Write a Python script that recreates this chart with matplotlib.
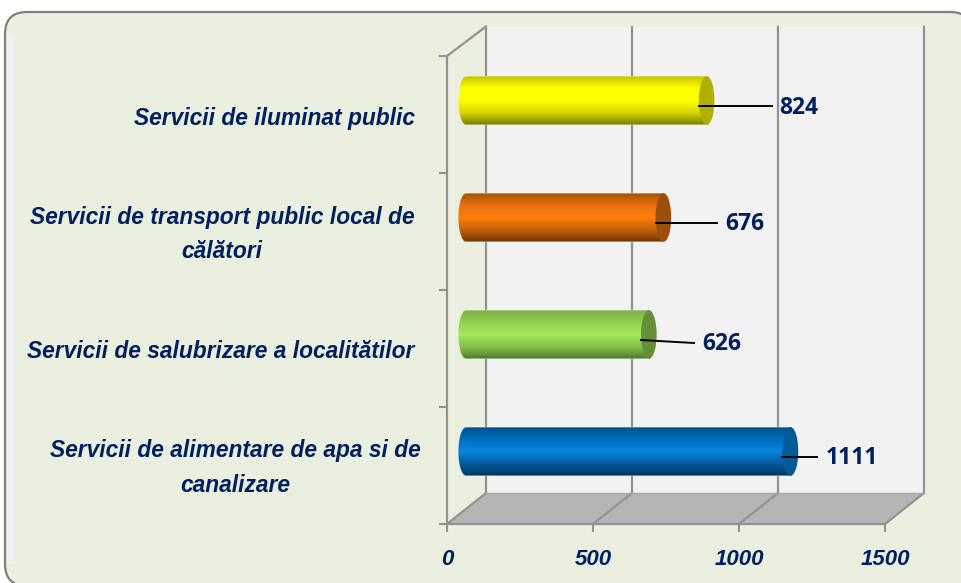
import numpy as np
import matplotlib
matplotlib.use("Agg")
import matplotlib.pyplot as plt
from matplotlib.colors import LinearSegmentedColormap
from matplotlib.patches import FancyBboxPatch, Polygon, Rectangle, PathPatch, Ellipse
from matplotlib.path import Path

categories = ["Servicii de alimentare de apa si de\ncanalizare",
              "Servicii de salubrizare a localitătilor",
              "Servicii de transport public local de\ncălători",
              "Servicii de iluminat public"]
values = [1111, 626, 676, 824]
xticks = [0, 500, 1000, 1500]

W, H = 961, 583
NAVY = "#002060"
GRID = "#939393"
PANEL = "#EBEFDF"
fig = plt.figure(figsize=(W / 100, H / 100), dpi=100, facecolor="white")

bg = fig.add_axes([0, 0, 1, 1], zorder=0)
bg.set_xlim(0, W); bg.set_ylim(H, 0); bg.axis("off")
bg.add_patch(FancyBboxPatch((5, 12), 967, 574, boxstyle="round,pad=0,rounding_size=22",
                            fc=PANEL, ec="#808080", lw=1.6))
bg.add_patch(Rectangle((6.5, 34), 8.5, 530, fc="#F0F0F2", ec="none"))

L, R, B, T = 447, 885, 524, 56
ax = fig.add_axes([L / W, 1 - B / H, (R - L) / W, (B - T) / H], zorder=1)
ax.patch.set_alpha(0)
ax.set_xlim(0, 1500); ax.set_ylim(0, 4)
px_x = 1500 / (R - L); px_y = 4 / (B - T)
dx, dy = 39 * px_x, 31 * px_y
top = 4 + dy - 1.5 * px_y

for s in ax.spines.values():
    s.set_visible(False)
ax.set_xticks(xticks)
ax.set_xticklabels([str(t) for t in xticks], family="Liberation Sans", style="italic",
                   weight="bold", fontsize=16, color=NAVY)
ax.set_yticks(range(5)); ax.set_yticklabels([])
ax.tick_params(axis="both", direction="out", length=6, width=1.5, color=GRID, pad=12)

# back wall, floor, left wall
ax.add_patch(Polygon([(dx, dy), (1500 + dx, dy), (1500 + dx, top), (dx, top)],
                     fc="#F2F2F2", ec="none", clip_on=False, zorder=1))
ax.add_patch(Polygon([(0, 0), (1500, 0), (1500 + dx, dy), (dx, dy)],
                     fc="#B5B5B5", ec="none", clip_on=False, zorder=1))
ax.add_patch(Polygon([(0, 0), (0, 4), (dx, top), (dx, dy)],
                     fc=PANEL, ec="none", clip_on=False, zorder=1))
line = dict(color=GRID, lw=1.6, clip_on=False, zorder=2, solid_capstyle="round")
for t in xticks:
    ax.plot([t, t + dx, t + dx], [0, dy, top], **line)
ax.plot([0, 1500], [0, 0], **line)
ax.plot([0, 0, dx], [0, 4, top], **line)
ax.plot([dx, 1500 + dx], [dy, dy], color="#A8A8A8", lw=1, clip_on=False, zorder=2)

# cylinders
stops = [
    (["#00365F", "#045A9C", "#0883DD", "#0070C0", "#004E8A"], "#045A96"),
    (["#4E7A2C", "#86C24C", "#A6E85C", "#92D050", "#7DAE45"], "#648E38"),
    (["#6B3500", "#C56208", "#FF7F0E", "#E87010", "#A65200"], "#9C4F0A"),
    (["#7A7A00", "#D8D800", "#FFFF00", "#FFFF00", "#C4C400"], "#B0B000"),
]
x0 = 65.0
half_h = 24.3 * px_y
half_w = 7.8 * px_x
y_off = 0.62
for i, (v, (cols, cap)) in enumerate(zip(values, stops)):
    yc = i + y_off
    x1 = x0 + v
    a_r = np.linspace(-np.pi / 2, np.pi / 2, 40)
    right = np.c_[x1 + half_w * np.cos(a_r), yc + half_h * np.sin(a_r)]
    left = np.c_[x0 - half_w * np.cos(a_r[::-1]), yc + half_h * np.sin(a_r[::-1])]
    pts = np.r_[right, left, right[:1]]
    cmap = LinearSegmentedColormap.from_list(f"c{i}", cols)
    im = ax.imshow(np.linspace(0, 1, 128)[:, None], cmap=cmap, aspect="auto", origin="lower",
                   extent=[x0 - half_w, x1 + half_w, yc - half_h, yc + half_h], zorder=3)
    clip = PathPatch(Path(pts), transform=ax.transData, fc="none", ec="none")
    ax.add_patch(clip)
    clip.set_clip_on(False)
    im.set_clip_path(clip)
    ax.add_patch(Polygon(pts, fc="none", ec="#FFFFFF", alpha=0.3, lw=0.8, clip_on=False, zorder=3.1))
    ax.add_patch(Ellipse((x1, yc), 2 * half_w, 2 * half_h, fc=cap, ec="none", clip_on=False, zorder=3.2))
ax.set_xlim(0, 1500); ax.set_ylim(0, 4)

# leader lines and value labels (pixel anchors)
leaders = [((782, 457), (817, 457), (852, 458)),
           ((641, 340), (694, 343), (722, 344)),
           ((656, 223), (717, 223), (745, 224)),
           ((699, 105.5), (772, 105.5), (799, 108))]
for (a, b, c), v in zip(leaders, values):
    fig.add_artist(plt.Line2D([a[0] / W, b[0] / W], [1 - a[1] / H, 1 - b[1] / H],
                              color="black", lw=1.4, zorder=5))
    fig.text(c[0] / W, 1 - c[1] / H, str(v), family="Open Sans", weight="bold", fontsize=16.5,
             color=NAVY, ha="center", va="center", zorder=5)

# category labels (centre pixel)
centres = [(235, 468), (221, 352), (222, 234.5), (274, 118)]
for (cx, cy), c in zip(centres, categories):
    fig.text(cx / W, 1 - cy / H, c, family="Liberation Sans", style="italic", weight="bold",
             fontsize=16.4, color=NAVY, ha="center", va="center", linespacing=1.66, zorder=5,
             multialignment="center")

fig.savefig("out.png", dpi=100)
